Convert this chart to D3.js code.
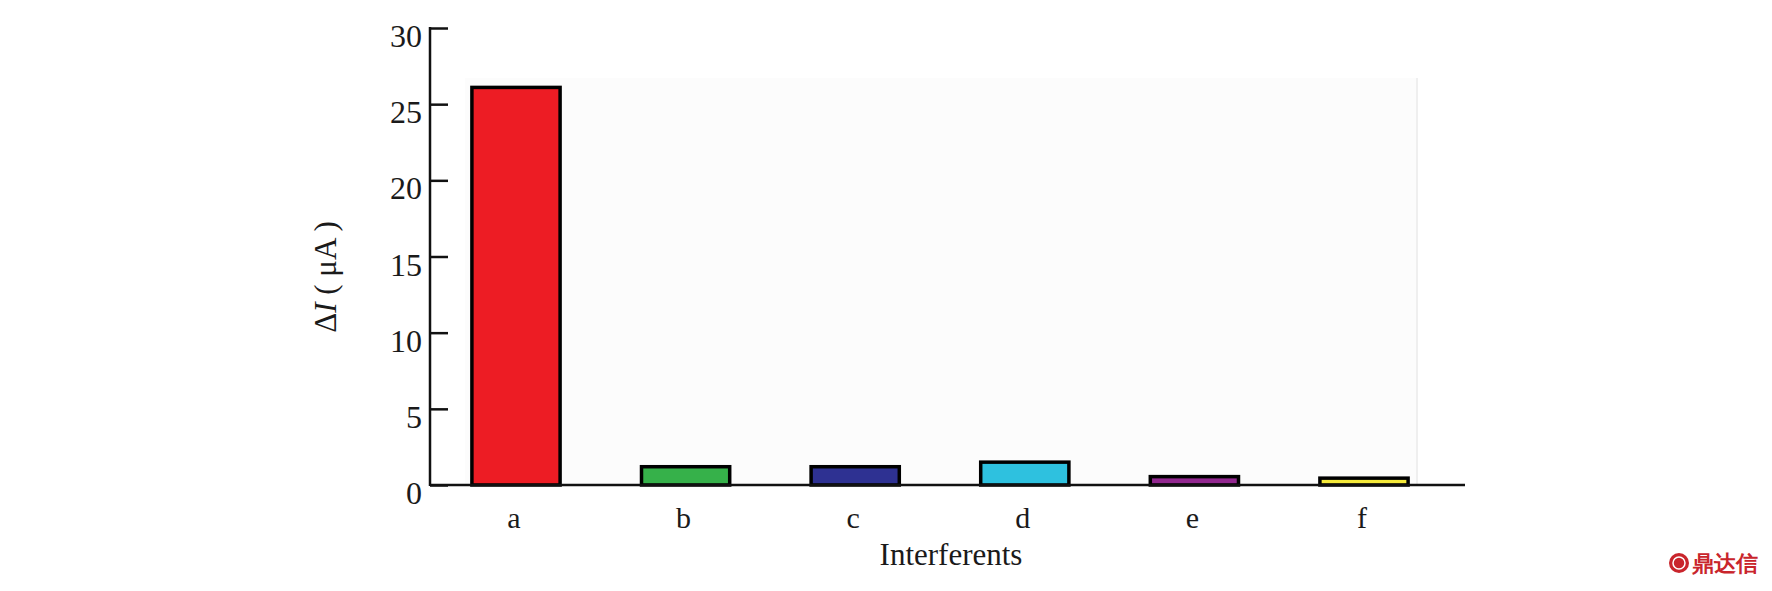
<!DOCTYPE html>
<html>
<head>
<meta charset="utf-8">
<script src="https://cdn.jsdelivr.net/npm/d3@7"></script>
<style>
  html, body { margin: 0; padding: 0; background: #ffffff; }
  svg { display: block; }
  text { font-family: "Liberation Serif", "DejaVu Serif", serif; fill: #1a1a1a; }
</style>
</head>
<body>
<svg id="chart" width="1772" height="591"></svg>
<script>
// ---- data ----
const categories = ["a", "b", "c", "d", "e", "f"];
const values = [26.1, 1.2, 1.2, 1.5, 0.55, 0.45];
const barColors = ["#ed1c24", "#36b14a", "#2e3192", "#2ec1df", "#92278f", "#f5ea3a"];
const yTicks = [0, 5, 10, 15, 20, 25, 30];
const xTitle = "Interferents";

// ---- layout ----
const svg = d3.select("#chart");
const axisX = 430, yTop = 28, yBase = 485, axisEnd = 1465;

const y = d3.scaleLinear().domain([0, 30]).range([yBase, yTop]);
const x = d3.scaleBand().domain(categories)
  .range([431.2, 1448.8]).paddingInner(0.48).paddingOuter(0.24);

// light plot background
svg.append("rect")
  .attr("x", 465).attr("y", 78)
  .attr("width", 1417 - 465).attr("height", yBase - 78)
  .attr("fill", "#fcfcfc");
svg.append("line")
  .attr("x1", 1417).attr("x2", 1417).attr("y1", 78).attr("y2", yBase)
  .attr("stroke", "#efefef").attr("stroke-width", 2);

// bars
svg.append("g").selectAll("rect")
  .data(values)
  .join("rect")
  .attr("x", (d, i) => x(categories[i]))
  .attr("y", d => y(d))
  .attr("width", x.bandwidth())
  .attr("height", d => yBase - y(d))
  .attr("fill", (d, i) => barColors[i])
  .attr("stroke", "#000")
  .attr("stroke-width", 3.5);

// y axis
const yAxis = d3.axisRight(y).tickValues(yTicks).tickSize(18).tickFormat("");
const gy = svg.append("g").attr("transform", `translate(${axisX},0)`).call(yAxis);
gy.select(".domain").remove();
gy.selectAll(".tick line").attr("stroke", "#111").attr("stroke-width", 2.5);
svg.append("line")
  .attr("x1", axisX).attr("x2", axisX).attr("y1", yTop - 1).attr("y2", yBase + 1)
  .attr("stroke", "#111").attr("stroke-width", 2.5);

// y tick labels
svg.append("g").selectAll("text")
  .data(yTicks)
  .join("text")
  .attr("x", 422)
  .attr("y", d => y(d) + 19)
  .attr("text-anchor", "end")
  .attr("font-size", 32)
  .text(d => d);

// x axis
svg.append("line")
  .attr("x1", axisX).attr("x2", axisEnd).attr("y1", yBase).attr("y2", yBase)
  .attr("stroke", "#111").attr("stroke-width", 2.5);

// category labels
svg.append("g").selectAll("text")
  .data(categories)
  .join("text")
  .attr("x", d => x(d) + x.bandwidth() / 2 - 2)
  .attr("y", 528)
  .attr("text-anchor", "middle")
  .attr("font-size", 30)
  .text(d => d);

// x title
svg.append("text")
  .attr("x", 951).attr("y", 565)
  .attr("text-anchor", "middle")
  .attr("font-size", 31)
  .text(xTitle);

// y title
const yt = svg.append("text")
  .attr("transform", "translate(336,277) rotate(-90)")
  .attr("text-anchor", "middle")
  .attr("font-size", 31);
yt.append("tspan").text("Δ");
yt.append("tspan").attr("font-style", "italic").text("I");
yt.append("tspan").text(" ( μA )");

// watermark
const wm = svg.append("g").attr("transform", "translate(1679,563)");
wm.append("circle").attr("r", 10).attr("fill", "#c9252c");
wm.append("circle").attr("r", 6).attr("fill", "none").attr("stroke", "#fff").attr("stroke-width", 1.5);
svg.append("text")
  .attr("x", 1692).attr("y", 571)
  .attr("font-family", "Noto Sans CJK SC")
  .attr("font-weight", "bold")
  .attr("font-size", 22)
  .style("fill", "#c9252c")
  .text("鼎达信");
</script>
</body>
</html>
